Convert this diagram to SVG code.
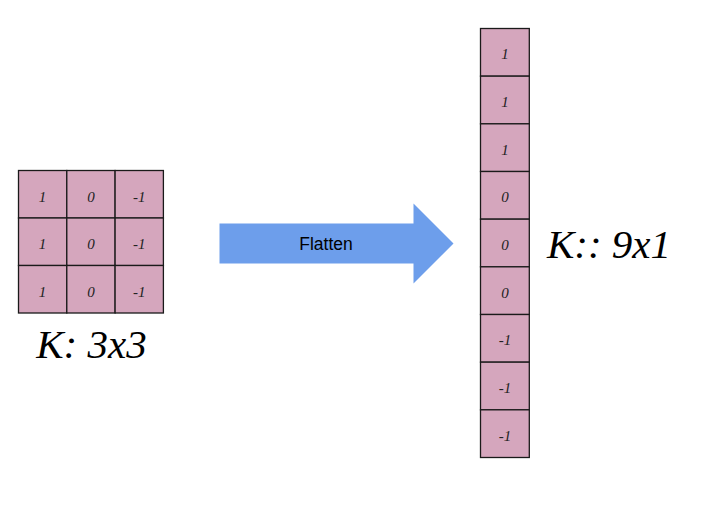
<svg xmlns="http://www.w3.org/2000/svg" width="701" height="510" viewBox="0 0 701 510">
<style>
.cell{fill:#d5a6bd;stroke:#1a1a1a;stroke-width:1.3}
.num{font-family:"Liberation Serif",serif;font-style:italic;font-size:15px;fill:#222;text-anchor:middle}
.lbl{font-family:"Liberation Serif",serif;font-style:italic;font-size:41px;fill:#000;text-anchor:middle}
.arr{font-family:"Liberation Sans",Arial,sans-serif;font-size:17.5px;fill:#000;text-anchor:middle}
</style>
<rect width="701" height="510" fill="#fff"/>
<g id="kernel3x3">
<rect class="cell" x="18.5" y="170.5" width="48.3" height="47.5"/>
<rect class="cell" x="66.8" y="170.5" width="48.3" height="47.5"/>
<rect class="cell" x="115.1" y="170.5" width="48.3" height="47.5"/>
<rect class="cell" x="18.5" y="218" width="48.3" height="47.5"/>
<rect class="cell" x="66.8" y="218" width="48.3" height="47.5"/>
<rect class="cell" x="115.1" y="218" width="48.3" height="47.5"/>
<rect class="cell" x="18.5" y="265.5" width="48.3" height="47.5"/>
<rect class="cell" x="66.8" y="265.5" width="48.3" height="47.5"/>
<rect class="cell" x="115.1" y="265.5" width="48.3" height="47.5"/>
<text class="num" x="42.6" y="201.5">1</text>
<text class="num" x="91" y="201.5">0</text>
<text class="num" x="139.3" y="201.5">-1</text>
<text class="num" x="42.6" y="249">1</text>
<text class="num" x="91" y="249">0</text>
<text class="num" x="139.3" y="249">-1</text>
<text class="num" x="42.6" y="296.5">1</text>
<text class="num" x="91" y="296.5">0</text>
<text class="num" x="139.3" y="296.5">-1</text>
</g>
<g id="label3x3">
<text class="lbl" x="91.5" y="358">K: 3x3</text>
</g>
<g id="connectors">
<g id="flatten">
<polygon points="219.5,223.5 413.5,223.5 413.5,203.5 453.5,243.5 413.5,283.5 413.5,263.5 219.5,263.5" fill="#6d9eeb"/>
<text class="arr" x="326" y="250">Flatten</text>
</g>
</g>
<g id="kernel9x1">
<rect class="cell" x="480.5" y="28.5" width="48.8" height="47.67"/>
<rect class="cell" x="480.5" y="76.17" width="48.8" height="47.67"/>
<rect class="cell" x="480.5" y="123.83" width="48.8" height="47.67"/>
<rect class="cell" x="480.5" y="171.5" width="48.8" height="47.67"/>
<rect class="cell" x="480.5" y="219.17" width="48.8" height="47.67"/>
<rect class="cell" x="480.5" y="266.83" width="48.8" height="47.67"/>
<rect class="cell" x="480.5" y="314.5" width="48.8" height="47.67"/>
<rect class="cell" x="480.5" y="362.17" width="48.8" height="47.67"/>
<rect class="cell" x="480.5" y="409.83" width="48.8" height="47.67"/>
<text class="num" x="505" y="59.3">1</text>
<text class="num" x="505" y="107">1</text>
<text class="num" x="505" y="154.6">1</text>
<text class="num" x="505" y="202.3">0</text>
<text class="num" x="505" y="250">0</text>
<text class="num" x="505" y="297.6">0</text>
<text class="num" x="505" y="345.3">-1</text>
<text class="num" x="505" y="393">-1</text>
<text class="num" x="505" y="440.6">-1</text>
</g>
<g id="label9x1">
<text class="lbl" x="609" y="258">K:: 9x1</text>
</g>
</svg>
